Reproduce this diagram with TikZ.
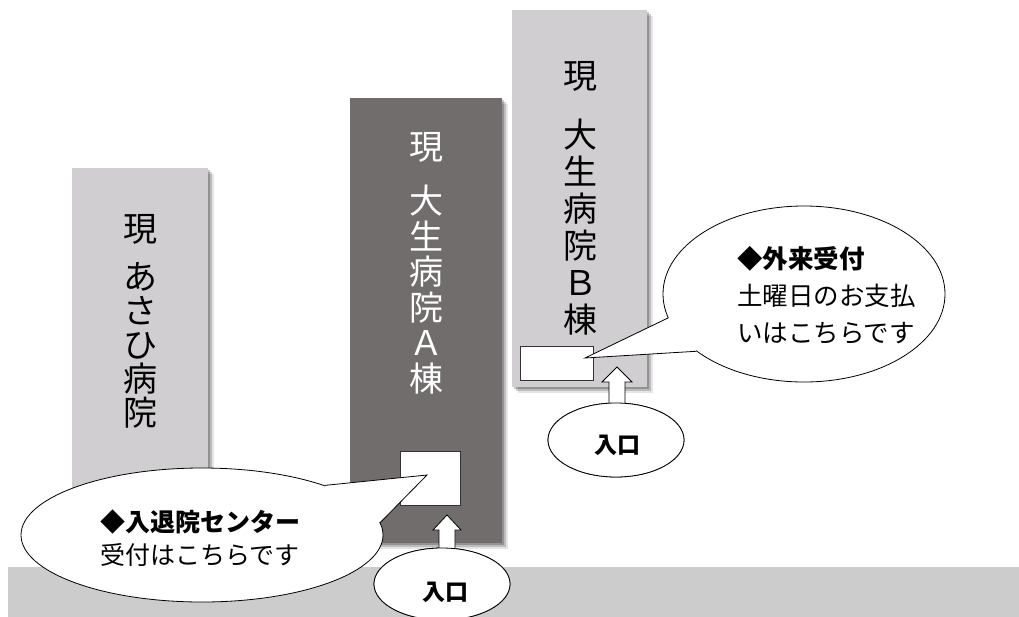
\documentclass[tikz,border=0pt]{standalone}
\usepackage{fontspec}
\newfontfamily\jp{Noto Sans CJK JP}
\usetikzlibrary{shapes.geometric,shadows,calc}
\definecolor{bldlight}{HTML}{D0CED0}
\definecolor{blddark}{HTML}{716D6D}
\definecolor{groundc}{HTML}{CDCCCD}
\begin{document}
\begin{tikzpicture}[x=1pt,y=-1pt,
  bshadow/.style={
    drop shadow={shadow xshift=1.5pt,shadow yshift=-1.5pt,fill=black,opacity=0.22},
    drop shadow={shadow xshift=3.5pt,shadow yshift=-3.5pt,fill=black,opacity=0.18},
    drop shadow={shadow xshift=6pt,shadow yshift=-6pt,fill=black,opacity=0.10}},
  building/.style={rectangle,anchor=north west,inner sep=0pt,bshadow},
  vlabel/.style={anchor=north,inner sep=0pt,align=center,font=\jp\fontsize{34}{35.5}\selectfont},
  whitebox/.style={rectangle,anchor=north west,inner sep=0pt,fill=white,draw=black!80,line width=0.7pt},
  balloon/.style={ellipse,inner sep=0pt,fill=white,draw=black,line width=0.8pt},
  blockarrow/.style={fill=white,draw=black,line width=0.8pt,line join=miter},
  tailfill/.style={fill=white},
  tailline/.style={draw=black,line width=0.8pt},
  btext/.style={inner sep=0pt,font=\jp\fontsize{25}{33}\selectfont},
  entrytext/.style={inner sep=0pt,font=\jp\bfseries\fontsize{23}{24}\selectfont}
]
\useasboundingbox (0,0) rectangle (1019,616);

% buildings
\node[building,fill=bldlight,minimum width=136pt,minimum height=400pt] (asahi) at (72,168) {};
\node[building,fill=blddark,minimum width=152pt,minimum height=445pt] (bldA) at (350,98) {};
\node[building,fill=bldlight,minimum width=135pt,minimum height=377pt] (bldB) at (512,10) {};

% ground
\node[rectangle,anchor=north west,inner sep=0pt,fill=groundc,minimum width=1011pt,minimum height=50pt] (ground) at (8,567) {};

% building labels
\node[vlabel,font=\jp\fontsize{34}{34}\selectfont] (lblasahi) at (140,214) {現\\[14pt]あ\\さ\\ひ\\病\\院};
\node[vlabel,text=white] (lblA) at (426,132) {現\\[19pt]大\\生\\病\\院\\Ａ\\棟};
\node[vlabel,font=\jp\fontsize{34}{37}\selectfont] (lblB) at (580,61) {現\\[22pt]大\\生\\病\\院\\Ｂ\\棟};

% reception boxes
\node[whitebox,minimum width=60pt,minimum height=54pt] (boxA) at (400,451) {};
\node[whitebox,minimum width=73pt,minimum height=34pt] (boxB) at (520,346) {};

% entrance ellipses (positions)
\coordinate (tipA) at (447,515);
\coordinate (tipB) at (617,367);
\node[balloon,minimum width=136pt,minimum height=72pt] (ea) at (442,584) {};
\node[balloon,minimum width=136pt,minimum height=74pt] (eb) at (616,440) {};

% block arrows (drawn, then ellipses redrawn on top)
\draw[blockarrow] let \p1=(tipA), \p2=(ea.north) in
  (\x1,\y1) -- (\x1+14pt,\y1-15pt) -- (\x1+8pt,\y1-15pt) -- (\x1+8pt,\y2-3pt)
  -- (\x1-8pt,\y2-3pt) -- (\x1-8pt,\y1-15pt) -- (\x1-14pt,\y1-15pt) -- cycle;
\draw[blockarrow] let \p1=(tipB), \p2=(eb.north) in
  (\x1,\y1) -- (\x1+15pt,\y1-15pt) -- (\x1+8pt,\y1-15pt) -- (\x1+8pt,\y2-3pt)
  -- (\x1-8pt,\y2-3pt) -- (\x1-8pt,\y1-15pt) -- (\x1-15pt,\y1-15pt) -- cycle;
\node[balloon,minimum width=136pt,minimum height=72pt] (ea2) at (ea.center) {};
\node[balloon,minimum width=136pt,minimum height=74pt] (eb2) at (eb.center) {};
\node[entrytext] (entA) at (445,592) {入口};
\node[entrytext] (entB) at (617,445) {入口};

% callout 1
\coordinate (tail1) at (427,475);
\node[balloon,minimum width=362pt,minimum height=134pt] (c1) at (202,535) {};
\fill[tailfill] (c1.22) -- (tail1) -- (c1.4) -- ($(c1.center)!0.85!(c1.13)$) -- cycle;
\draw[tailline] (c1.22) -- (tail1) -- (c1.4);
\node[btext,align=center] (t1) at (200,538) {{\bfseries ◆入退院センター}\\受付はこちらです};

% callout 2
\coordinate (tail2) at (585,358);
\node[balloon,minimum width=282pt,minimum height=176pt] (c2) at (804,294) {};
\fill[tailfill] (c2.190) -- (tail2) -- (c2.208) -- ($(c2.center)!0.85!(c2.199)$) -- cycle;
\draw[tailline] (c2.190) -- (tail2) -- (c2.208);
\node[btext,align=left,anchor=west,font=\jp\fontsize{25.5}{37}\selectfont] (t2) at (737,295) {{\bfseries ◆外来受付}\\土曜日のお支払\\いはこちらです};
\end{tikzpicture}
\end{document}
